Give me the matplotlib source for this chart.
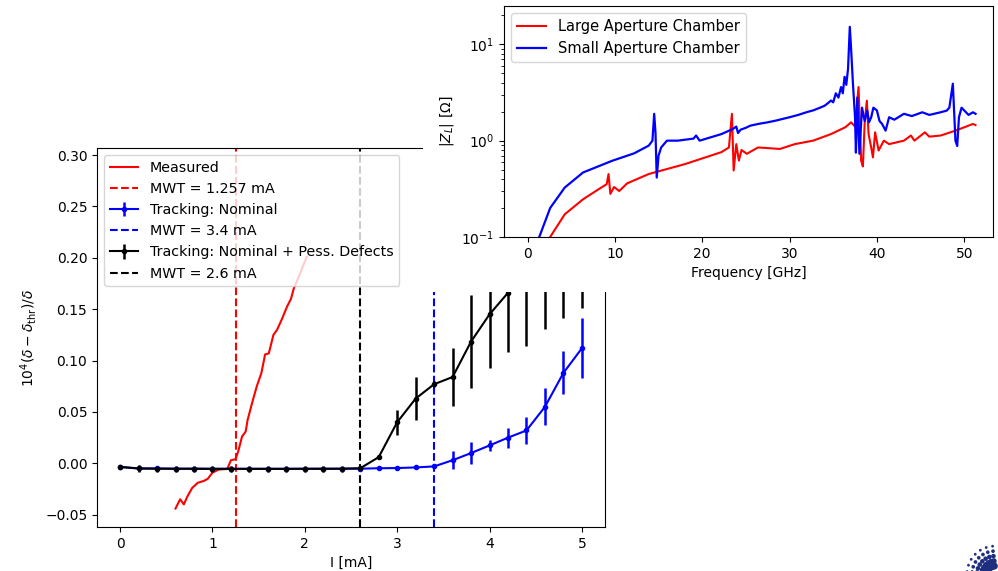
import numpy as np
import matplotlib
matplotlib.use("Agg")
import matplotlib.pyplot as plt
from matplotlib.patches import Rectangle

# ---------------- data: main panel ----------------
meas_I = [0.60, 0.65, 0.69, 0.73, 0.78, 0.84, 0.91, 0.95, 1.00, 1.07, 1.16, 1.20,
          1.25, 1.28, 1.32, 1.36, 1.38, 1.43, 1.48, 1.53, 1.57, 1.61, 1.66, 1.70,
          1.75, 1.81, 1.85, 1.88, 1.95, 2.02]
meas_v = [-0.044, -0.035, -0.040, -0.032, -0.024, -0.019, -0.017, -0.015, -0.009,
          -0.006, -0.0055, 0.003, 0.004, 0.012, 0.026, 0.031, 0.042, 0.059, 0.075,
          0.088, 0.106, 0.107, 0.125, 0.130, 0.140, 0.153, 0.160, 0.170, 0.185, 0.201]

I_track = [0.0, 0.2, 0.4, 0.6, 0.8, 1.0, 1.2, 1.4, 1.6, 1.8, 2.0, 2.2, 2.4, 2.6,
           2.8, 3.0, 3.2, 3.4, 3.6, 3.8, 4.0, 4.2, 4.4, 4.6, 4.8, 5.0]
nom_v = [-0.0035, -0.005, -0.005, -0.0052, -0.0052, -0.0053, -0.0053, -0.0053,
         -0.0053, -0.0053, -0.0053, -0.0053, -0.0053, -0.0052, -0.0048, -0.0046,
         -0.004, -0.003, 0.003, 0.010, 0.0174, 0.025, 0.032, 0.055, 0.088, 0.112]
nom_err = [0.0015, 0.002, 0.002, 0.002, 0.002, 0.002, 0.002, 0.002, 0.002, 0.002,
           0.002, 0.002, 0.002, 0.002, 0.002, 0.002, 0.002, 0.002, 0.009, 0.0105,
           0.005, 0.0097, 0.013, 0.018, 0.021, 0.029]
pess_v = [-0.0035, -0.005, -0.0052, -0.0053, -0.0053, -0.0054, -0.0054, -0.0054,
          -0.0054, -0.0054, -0.0053, -0.0053, -0.0052, -0.0048, 0.006, 0.040,
          0.063, 0.077, 0.084, 0.1185, 0.145, 0.166, 0.180, 0.200, 0.220, 0.240]
pess_err = [0.0015, 0.003, 0.003, 0.003, 0.003, 0.003, 0.003, 0.003, 0.003, 0.003,
            0.003, 0.003, 0.003, 0.002, 0.002, 0.012, 0.021, 0.003, 0.028, 0.045,
            0.052, 0.058, 0.066, 0.069, 0.079, 0.089]

mwt_meas = 1.257
mwt_nom = 3.4
mwt_pess = 2.6

# ---------------- data: inset (impedance) ----------------
small_f = [0.6, 1.34, 2.59, 4.26, 6.35, 9.69, 12.2, 13.87, 14.3, 14.5, 14.65, 14.79,
           15.0, 15.3, 15.96, 17.2, 19.0, 19.3, 19.7, 22.2, 23.5, 23.9, 24.1, 24.4,
           25.0, 25.5, 26.4, 27.5, 28.5, 30.0, 31.0, 32.0, 32.7, 33.5, 34.0, 34.4,
           34.75, 35.0, 35.3, 35.6, 35.9, 36.1, 36.3, 36.5, 36.7, 36.9, 37.05,
           37.26, 37.5, 37.6, 37.76, 38.0, 38.3, 38.6, 38.9, 39.1, 39.35, 39.6,
           40.0, 40.3, 40.6, 41.0, 41.4, 42.0, 43.1, 44.0, 45.2, 46.0, 47.3, 48.0,
           48.3, 48.7, 49.0, 49.2, 49.4, 49.7, 50.0, 50.5, 51.0, 51.3]
small_z = [0.04, 0.1, 0.2, 0.326, 0.467, 0.618, 0.738, 0.887, 1.0, 1.9, 1.2, 0.414,
           0.7, 0.85, 1.0, 1.0, 1.05, 1.13, 1.0, 1.17, 1.32, 1.4, 1.2, 1.3,
           1.36, 1.43, 1.49, 1.55, 1.62, 1.75, 1.85, 1.98, 2.06, 2.2, 2.3, 2.45,
           2.61, 2.5, 3.1, 2.8, 3.6, 3.1, 4.6, 3.8, 5.6, 15.2, 9.0,
           3.9, 1.75, 0.75, 2.8, 0.73, 2.2, 1.6, 2.06, 1.55, 1.75, 2.2,
           2.06, 1.6, 1.49, 1.27, 1.75, 1.65, 1.9, 1.8, 1.97, 1.85, 1.97, 2.05,
           2.2, 3.9, 1.0, 0.88, 1.75, 2.2, 2.06, 1.85, 1.97, 1.9]
large_f = [1.5, 2.59, 4.26, 6.35, 8.44, 9.06, 9.27, 9.48, 9.9, 10.5, 11.4, 13.87,
           18.0, 22.2, 23.06, 23.4, 23.6, 23.9, 24.2, 24.5, 25.1, 26.4, 28.9, 30.6,
           32.7, 34.75, 36.4, 37.05, 37.5, 37.9, 38.2, 38.4, 38.6, 38.85, 39.05,
           39.35, 39.55, 39.8, 40.2, 40.8, 41.4, 43.1, 43.9, 44.3, 45.5, 46.0, 47.3,
           49.0, 51.0, 51.3]
large_z = [0.05, 0.1, 0.172, 0.246, 0.326, 0.353, 0.45, 0.28, 0.33, 0.30, 0.36, 0.45,
           0.57, 0.76, 0.85, 1.9, 0.49, 0.92, 0.62, 0.8, 0.73, 0.85, 0.82, 0.92,
           1.0, 1.17, 1.38, 1.55, 1.4, 3.6, 0.62, 0.54, 1.5, 2.6, 1.17,
           0.85, 0.67, 1.22, 0.79, 1.0, 0.92, 1.0, 1.13, 1.0, 1.22, 1.1, 1.13,
           1.27, 1.49, 1.45]

# ---------------- figure ----------------
fig = plt.figure(figsize=(9.98, 5.71), dpi=100)

ax = fig.add_axes([0.0972, 0.077, 0.509, 0.664], zorder=0)
h1, = ax.plot(meas_I, meas_v, color='r', lw=1.5, label='Measured')
h2 = ax.axvline(mwt_meas, color='r', ls='--', lw=1.5, label=f'MWT = {mwt_meas} mA')
h3 = ax.errorbar(I_track, nom_v, yerr=nom_err, fmt='.-', color='b', lw=1.5,
                 elinewidth=1.8, label='Tracking: Nominal')
h4 = ax.axvline(mwt_nom, color='b', ls='--', lw=1.5, label=f'MWT = {mwt_nom} mA')
h5 = ax.errorbar(I_track, pess_v, yerr=pess_err, fmt='.-', color='k', lw=1.5,
                 elinewidth=1.8, label='Tracking: Nominal + Pess. Defects')
h6 = ax.axvline(mwt_pess, color='k', ls='--', lw=1.5, label=f'MWT = {mwt_pess} mA')
hs = [h1, h2, h3, h4, h5, h6]
ax.legend(hs, [h.get_label() for h in hs], loc='upper left', fontsize=10.3)
ax.set_xlim(-0.25, 5.25)
ax.set_ylim(-0.062, 0.307)
ax.set_xlabel('I [mA]', fontsize=10)
ax.set_ylabel(r'$10^4(\delta - \delta_{\rm thr})/\delta$', fontsize=10)

# white background behind inset
fig.add_artist(Rectangle((0.424, 0.489), 0.576, 0.511, transform=fig.transFigure,
                         facecolor='white', edgecolor='none', zorder=1))

axi = fig.add_axes([0.505, 0.585, 0.490, 0.4045], zorder=2)
axi.plot(large_f, large_z, color='r', lw=1.5, label='Large Aperture Chamber')
axi.plot(small_f, small_z, color='b', lw=1.6, label='Small Aperture Chamber')
axi.set_yscale('log')
axi.set_xlim(-2.7, 53.3)
axi.set_ylim(0.1, 25)
axi.set_xlabel('Frequency [GHz]', fontsize=10)
axi.set_ylabel(r'$|Z_L|$ [$\Omega$]', fontsize=10)
axi.legend(loc='upper left', fontsize=10.5)

# partial logo in bottom-right corner (decoration)
lax = fig.add_axes([0.955, 0.0, 0.045, 0.075], zorder=3)
lax.set_xlim(0, 45)
lax.set_ylim(0, 43)
lax.axis('off')
for r, s in [(8, 26), (13, 17), (18, 11), (23, 7), (28, 4)]:
    for ang in np.linspace(95, 175, 7):
        a = np.deg2rad(ang)
        lax.scatter(42 + r * np.cos(a), -3 + r * np.sin(a), s=s, color='#1f2f7f',
                    edgecolors='none', clip_on=False)

fig.savefig('out.png', dpi=100)
